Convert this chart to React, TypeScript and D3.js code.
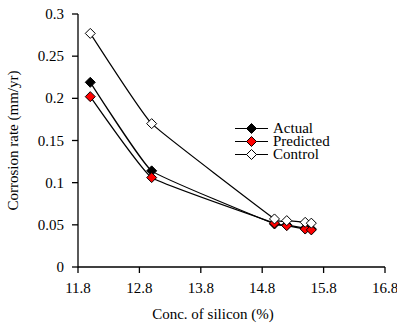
import React from "react";
import * as d3 from "d3";

const silicon = [12.0, 13.0, 15.0, 15.2, 15.5, 15.6];
const actual = [0.219, 0.114, 0.051, 0.050, 0.046, 0.045];
const predicted = [0.202, 0.106, 0.052, 0.049, 0.045, 0.044];
const control = [0.277, 0.170, 0.057, 0.055, 0.053, 0.052];
const xTicks = [11.8, 12.8, 13.8, 14.8, 15.8, 16.8];
const yTicks = [0, 0.05, 0.1, 0.15, 0.2, 0.25, 0.3];

const seriesList = [
  { name: "Actual", values: actual, fill: "#000000" },
  { name: "Predicted", values: predicted, fill: "#ff0000" },
  { name: "Control", values: control, fill: "#ffffff" },
];

export default function App() {
  const W = 397, H = 328;
  const x = d3.scaleLinear().domain([11.8, 16.8]).range([78, 385]);
  const y = d3.scaleLinear().domain([0, 0.3]).range([267, 14]);
  const line = d3
    .line<number>()
    .x((_, i) => x(silicon[i]))
    .y((d) => y(d))
    .curve(d3.curveCardinal.tension(0.7));
  const font = '"Liberation Serif", "DejaVu Serif", serif';
  const diamond = (cx: number, cy: number, r: number) =>
    `M${cx},${cy - r}L${cx + r},${cy}L${cx},${cy + r}L${cx - r},${cy}Z`;
  const legendX = 235, legendY = [128.5, 141.5, 154.5];
  const fs = 15;

  return (
    <svg width={W} height={H} style={{ position: "absolute", left: 0, top: 0, background: "#fff" }}>
      {/* axes */}
      <line x1={x(11.8)} x2={x(11.8)} y1={y(0.3)} y2={y(0) + 0.5} stroke="#000" strokeWidth={1.3} />
      <line x1={x(11.8)} x2={x(16.8)} y1={y(0)} y2={y(0)} stroke="#000" strokeWidth={1.3} />
      {yTicks.map((t) => (
        <g key={"y" + t}>
          <line x1={x(11.8) - 6} x2={x(11.8)} y1={y(t)} y2={y(t)} stroke="#000" strokeWidth={1.3} />
          <text x={x(11.8) - 14} y={y(t) + 5} textAnchor="end" fontFamily={font} fontSize={fs}>{String(t)}</text>
        </g>
      ))}
      {xTicks.map((t) => (
        <g key={"x" + t}>
          <line x1={x(t)} x2={x(t)} y1={y(0)} y2={y(0) + 6} stroke="#000" strokeWidth={1.3} />
          <text x={x(t)} y={y(0) + 26} textAnchor="middle" fontFamily={font} fontSize={fs}>{t.toFixed(1)}</text>
        </g>
      ))}
      <text x={213} y={319} textAnchor="middle" fontFamily={font} fontSize={fs}>Conc. of silicon (%)</text>
      <text transform={`translate(18,${(y(0) + y(0.3)) / 2}) rotate(-90)`} textAnchor="middle" fontFamily={font} fontSize={fs}>Corrosion rate (mm/yr)</text>

      {/* series */}
      {seriesList.map((s) => (
        <path key={"l" + s.name} d={line(s.values) || ""} fill="none" stroke="#000" strokeWidth={1.2} />
      ))}
      {seriesList.map((s) => (
        <g key={"m" + s.name}>
          {s.values.map((v, i) => (
            <path key={i} d={diamond(x(silicon[i]), y(v), 5)} fill={s.fill} stroke="#000" strokeWidth={1} />
          ))}
        </g>
      ))}

      {/* legend */}
      {seriesList.map((s, i) => (
        <g key={"lg" + s.name}>
          <line x1={legendX} x2={legendX + 33} y1={legendY[i]} y2={legendY[i]} stroke="#000" strokeWidth={1.2} />
          <path d={diamond(legendX + 16.5, legendY[i], 5)} fill={s.fill} stroke="#000" strokeWidth={1} />
          <text x={legendX + 38} y={legendY[i] + 4.5} fontFamily={font} fontSize={fs}>{s.name}</text>
        </g>
      ))}
    </svg>
  );
}
